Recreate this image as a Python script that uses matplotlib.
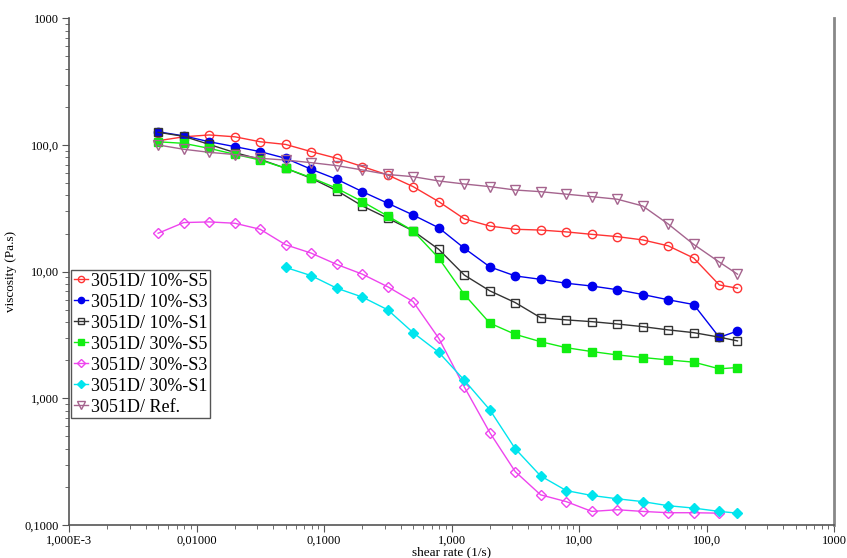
import matplotlib
matplotlib.use("Agg")
import matplotlib.pyplot as plt
import numpy as np

# shear rate points (1/s)
shear = [0.005, 0.00794, 0.0126, 0.02, 0.0316, 0.05, 0.0794, 0.126, 0.2, 0.316,
         0.5, 0.794, 1.26, 2.0, 3.16, 5.0, 7.94, 12.6, 20.0, 31.6,
         50.0, 79.4, 126, 175]

s10_s5 = [108, 116, 120, 116, 106, 101, 88.6, 78.5, 67.6, 58,
          46.9, 35.7, 26.1, 22.9, 21.6, 21.3, 20.6, 19.7, 18.9, 17.8,
          16.0, 12.8, 7.85, 7.4]
s10_s3 = [127, 118, 106, 97, 88.6, 78.5, 64.3, 53.6, 42.8, 34.7,
          28, 22.2, 15.3, 10.9, 9.25, 8.7, 8.1, 7.7, 7.2, 6.6,
          6.0, 5.5, 3.03, 3.4]
s10_s1 = [126, 117, 101, 87, 77, 65.5, 54.6, 43.6, 33, 26.4,
          21, 15, 9.4, 7.05, 5.7, 4.33, 4.16, 4.03, 3.86, 3.68,
          3.47, 3.30, 3.04, 2.84]
s30_s5 = [106, 103, 94, 84.4, 76, 65.5, 55.2, 45.5, 35.7, 27.5,
          21, 12.8, 6.6, 3.92, 3.2, 2.8, 2.51, 2.34, 2.20, 2.10,
          2.01, 1.93, 1.71, 1.75]
s30_s3 = [20.1, 24.4, 24.7, 24.1, 21.6, 16.3, 14.0, 11.4, 9.55, 7.6,
          5.8, 2.98, 1.23, 0.535, 0.264, 0.173, 0.153, 0.128, 0.132, 0.128,
          0.125, 0.125, 0.124]
s30_s1 = [10.8, 9.3, 7.4, 6.3, 5.0,
          3.3, 2.31, 1.39, 0.81, 0.40, 0.244, 0.187, 0.171, 0.161, 0.153,
          0.142, 0.136, 0.128, 0.124]
ref = [100, 92.5, 87.5, 84, 78.5, 76, 72.5, 68.7, 63.5, 58.5,
       56.2, 52, 49.2, 46.9, 44.1, 42.8, 40.9, 39.1, 37.3, 33,
       23.8, 16.4, 11.9, 9.55]

xticks = [1e-3, 1e-2, 1e-1, 1, 10, 100, 1000]
xticklabels = ["1,000E-3", "0,01000", "0,1000", "1,000", "10,00", "100,0", "1000"]
yticks = [0.1, 1, 10, 100, 1000]
yticklabels = ["0,1000", "1,000", "10,00", "100,0", "1000"]

plt.rcParams['font.family'] = ['Liberation Serif', 'DejaVu Serif']

fig = plt.figure(figsize=(8.47, 5.58), dpi=100)
ax = fig.add_axes([69 / 847, 33 / 558, (834 - 69) / 847, (525 - 18.3) / 558])

lw = 1.0
ms = 6
ax.plot(shear, s10_s5, color='#ff3333', marker='o', mfc='none', ms=ms, lw=lw, label='3051D/ 10%-S5')
ax.plot(shear, s10_s3, color='#0000ee', marker='o', ms=ms, lw=lw, label='3051D/ 10%-S3')
ax.plot(shear, s10_s1, color='#333333', marker='s', mfc='none', ms=ms, lw=lw, label='3051D/ 10%-S1')
ax.plot(shear, s30_s5, color='#11ee11', marker='s', ms=ms, lw=lw, label='3051D/ 30%-S5')
ax.plot(shear[:len(s30_s3)], s30_s3, color='#ee44ee', marker='D', mfc='none', ms=5.5, lw=lw,
        label='3051D/ 30%-S3')
ax.plot(shear[5:], s30_s1, color='#00e5ee', marker='D', ms=5, lw=lw, label='3051D/ 30%-S1')
ax.plot(shear, ref, color='#a5648e', marker='v', mfc='none', ms=ms + 1, lw=lw, label='3051D/ Ref.')

ax.set_xscale('log')
ax.set_yscale('log')
ax.set_xlim(1e-3, 1000)
ax.set_ylim(0.1, 1000)
ax.set_xticks(xticks, xticklabels)
ax.set_yticks(yticks, yticklabels)

ax.spines['top'].set_visible(False)
for s in ['left', 'bottom']:
    ax.spines[s].set_color('#555555')
    ax.spines[s].set_linewidth(1.2)
ax.spines['right'].set_color('#888888')
ax.spines['right'].set_linewidth(2)
ax.tick_params(which='both', direction='out', color='#555555', labelsize=9, pad=2,
               right=False, top=False)
ax.tick_params(which='major', length=5)
ax.tick_params(which='minor', length=3)

ax.set_xlabel('shear rate (1/s)', fontsize=9.5, labelpad=0)
ax.set_ylabel('viscosity (Pa.s)', fontsize=9.5, labelpad=6)

leg = ax.legend(loc='upper left', bbox_to_anchor=(0.003, (525 - 270) / (525 - 18.3)),
                fontsize=13, handlelength=0.8, handletextpad=0.15, borderpad=0.15,
                labelspacing=0.22, borderaxespad=0, fancybox=False, framealpha=1,
                markerscale=0.75)
leg.get_frame().set_edgecolor('#555555')
leg.get_frame().set_linewidth(1.0)

fig.savefig('out.png', dpi=100)
